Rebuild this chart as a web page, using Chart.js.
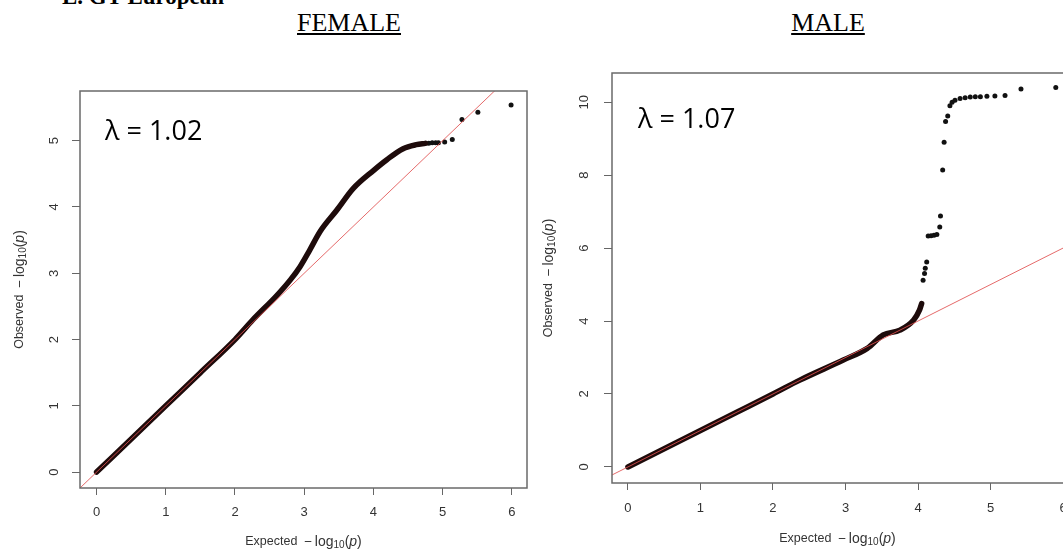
<!DOCTYPE html>
<html>
<head>
<meta charset="utf-8">
<script src="https://cdn.jsdelivr.net/npm/chart.js@4.4.1/dist/chart.umd.min.js"></script>
<style>
  html, body { margin: 0; padding: 0; background: #fff; overflow: hidden; }
  #wrap { position: relative; width: 1063px; height: 551px; overflow: hidden; background: #fff; }
  .hdr { position: absolute; font-family: "Liberation Serif", "Times New Roman", serif; color: #000; white-space: nowrap; }
  #figTitle { left: 62px; top: -15px; font-size: 23px; line-height: 23px; font-weight: bold; }
  .sex { width: 200px; text-align: center; top: 10px; font-size: 26px; line-height: 26px; text-decoration: underline; }
  #femaleTitle { left: 249px; }
  #maleTitle { left: 728px; }
  canvas { position: absolute; top: 0; }
  #femaleChart { left: 0; }
  #maleChart { left: 532px; }
</style>
</head>
<body>
<div id="wrap">
  <div class="hdr" id="figTitle">E. GT European</div>
  <div class="hdr sex" id="femaleTitle">FEMALE</div>
  <div class="hdr sex" id="maleTitle">MALE</div>
  <canvas id="femaleChart" width="540" height="551"></canvas>
  <canvas id="maleChart" width="560" height="551"></canvas>
</div>

<script>
// === Daten ===
const X_TICKS = [0, 1, 2, 3, 4, 5, 6];
const FEMALE_Y_TICKS = [0, 1, 2, 3, 4, 5];
const MALE_Y_TICKS = [0, 2, 4, 6, 8, 10];

const FEMALE_LAMBDA = "λ = 1.02";
const MALE_LAMBDA = "λ = 1.07";

// dichter Teil (als dicke Linie) + einzelne Punkte im Schwanz
const FEMALE_BULK_EXP = [0, 0.5, 1, 1.5, 2, 2.26, 2.6, 2.8, 2.94, 3.08, 3.23, 3.47, 3.71, 4.0, 4.19, 4.43, 4.62, 4.75];
const FEMALE_BULK_OBS = [0, 0.5, 1, 1.5, 2, 2.3, 2.66, 2.9, 3.1, 3.35, 3.63, 3.95, 4.28, 4.55, 4.71, 4.88, 4.94, 4.96];
const FEMALE_TAIL_EXP = [4.8, 4.85, 4.9, 4.94, 5.03, 5.14, 5.28, 5.51, 5.99];
const FEMALE_TAIL_OBS = [4.96, 4.97, 4.97, 4.97, 4.98, 5.02, 5.32, 5.43, 5.54];

const MALE_BULK_EXP = [0, 0.5, 1, 1.5, 2, 2.37, 2.97, 3.3, 3.52, 3.75, 3.94, 4.02, 4.05];
const MALE_BULK_OBS = [0, 0.5, 1, 1.5, 2, 2.38, 2.93, 3.25, 3.62, 3.75, 4.03, 4.3, 4.48];
const MALE_TAIL_EXP = [4.07, 4.09, 4.1, 4.12, 4.14, 4.18, 4.22, 4.26, 4.30, 4.31, 4.34, 4.36, 4.38, 4.41, 4.44, 4.47, 4.51,
  4.58, 4.65, 4.72, 4.79, 4.86, 4.95, 5.06, 5.20, 5.42, 5.90];
const MALE_TAIL_OBS = [5.12, 5.3, 5.45, 5.62, 6.33, 6.34, 6.35, 6.37, 6.58, 6.88, 8.14, 8.9, 9.47, 9.62, 9.9, 10.0, 10.05,
  10.1, 10.12, 10.14, 10.15, 10.15, 10.16, 10.17, 10.18, 10.36, 10.40];

// Diagonale y = x
const DIAG = [-1, 12];

// === Hilfen ===
const SANS = '"Liberation Sans", Arial, Helvetica, sans-serif';
const pts = (xs, ys) => xs.map((v, i) => ({ x: v, y: ys[i] }));

// "Expected  −log10(p)" im R-plotmath-Stil
function drawLogTitle(ctx, word, cx, cy, rotate) {
  const parts = [
    { t: word + "  ", f: "12.5px " + SANS, dy: 0 },
    { t: "\u2212\u2009", f: "13.5px " + SANS, dy: 0 },
    { t: "log", f: "14px " + SANS, dy: 0 },
    { t: "10", f: "10px " + SANS, dy: 3.5 },
    { t: "(", f: "14px " + SANS, dy: 0 },
    { t: "p", f: "italic 14px " + SANS, dy: 0 },
    { t: ")", f: "14px " + SANS, dy: 0 },
  ];
  let total = 0;
  parts.forEach((p) => { ctx.font = p.f; p.w = ctx.measureText(p.t).width; total += p.w; });
  ctx.save();
  ctx.translate(cx, cy);
  if (rotate) ctx.rotate(-Math.PI / 2);
  ctx.fillStyle = "#333";
  ctx.textAlign = "left";
  ctx.textBaseline = "middle";
  let x = -total / 2;
  parts.forEach((p) => { ctx.font = p.f; ctx.fillText(p.t, x, p.dy); x += p.w; });
  ctx.restore();
}

// Rahmen, Achsenbeschriftung, Lambda
const rStyle = {
  id: "rStyle",
  afterDraw(chart, args, o) {
    const { ctx, chartArea: a, scales } = chart;
    const sx = scales.x, sy = scales.y;
    ctx.save();
    ctx.strokeStyle = "#6a6a6a";
    ctx.lineWidth = 1.5;
    ctx.strokeRect(a.left, a.top, a.right - a.left, a.bottom - a.top);

    ctx.fillStyle = "#333";
    ctx.font = "13px " + SANS;
    ctx.textAlign = "center";
    ctx.textBaseline = "middle";
    o.xTicks.forEach((v) => ctx.fillText(String(v), sx.getPixelForValue(v), a.bottom + o.xLabOff));
    o.yTicks.forEach((v) => {
      ctx.save();
      ctx.translate(a.left - o.yLabOff, sy.getPixelForValue(v));
      ctx.rotate(-Math.PI / 2);
      ctx.fillText(String(v), 0, 0);
      ctx.restore();
    });

    drawLogTitle(ctx, "Expected", (a.left + a.right) / 2 + o.xTitleDx, a.bottom + o.xTitleOff, false);
    drawLogTitle(ctx, "Observed", o.yTitleX, (a.top + a.bottom) / 2, true);

    ctx.fillStyle = "#000";
    ctx.font = '27px "Open Sans", Lato, sans-serif';
    ctx.textAlign = "left";
    ctx.textBaseline = "alphabetic";
    ctx.fillText(o.lambda, a.left + o.lamX, a.top + o.lamY);
    ctx.restore();
  },
};

function makeQQ(canvasId, cfg) {
  const ctx = document.getElementById(canvasId).getContext("2d");
  return new Chart(ctx, {
    type: "scatter",
    data: {
      datasets: [
        {
          data: DIAG.map((v) => ({ x: v, y: v })),
          showLine: true,
          borderColor: "rgba(225, 80, 80, 0.85)",
          borderWidth: 1,
          pointRadius: 0,
          order: 0,
        },
        {
          data: pts(cfg.bulkX, cfg.bulkY),
          showLine: true,
          borderColor: "#1e0b0b",
          borderWidth: 5.5,
          borderCapStyle: "round",
          borderJoinStyle: "round",
          cubicInterpolationMode: "monotone",
          pointRadius: 0,
          order: 1,
        },
        {
          data: pts(cfg.tailX, cfg.tailY),
          showLine: false,
          pointRadius: 2.5,
          pointBorderWidth: 0,
          backgroundColor: "#111",
          order: 1,
        },
      ],
    },
    options: {
      responsive: false,
      animation: false,
      events: [],
      layout: { padding: cfg.padding },
      scales: {
        x: {
          type: "linear",
          min: cfg.xMin,
          max: cfg.xMax,
          afterBuildTicks: (s) => { s.ticks = X_TICKS.map((v) => ({ value: v })); },
          afterFit: (s) => { s.height = cfg.xAxisH; },
          ticks: { display: false },
          grid: { drawOnChartArea: false, drawTicks: true, tickLength: 7, color: "#666", lineWidth: 1 },
          border: { display: false },
        },
        y: {
          type: "linear",
          min: cfg.yMin,
          max: cfg.yMax,
          afterBuildTicks: (s) => { s.ticks = cfg.yTicks.map((v) => ({ value: v })); },
          afterFit: (s) => { s.width = 80; },
          ticks: { display: false },
          grid: { drawOnChartArea: false, drawTicks: true, tickLength: 8, color: "#666", lineWidth: 1 },
          border: { display: false },
        },
      },
      plugins: {
        legend: { display: false },
        tooltip: { enabled: false },
        rStyle: {
          xTicks: X_TICKS,
          yTicks: cfg.yTicks,
          xLabOff: cfg.xLabOff,
          yLabOff: cfg.yLabOff,
          xTitleOff: cfg.xTitleOff,
          xTitleDx: cfg.xTitleDx,
          yTitleX: cfg.yTitleX,
          lambda: cfg.lambda,
          lamX: cfg.lamX,
          lamY: cfg.lamY,
        },
      },
    },
    plugins: [rStyle],
  });
}

// === Init ===
makeQQ("femaleChart", {
  bulkX: FEMALE_BULK_EXP, bulkY: FEMALE_BULK_OBS,
  tailX: FEMALE_TAIL_EXP, tailY: FEMALE_TAIL_OBS,
  yTicks: FEMALE_Y_TICKS,
  xMin: -0.24, xMax: 6.22, yMin: -0.24, yMax: 5.75,
  padding: { left: 0, top: 91, right: 13, bottom: 0 },
  xAxisH: 63,
  xLabOff: 24, yLabOff: 26, xTitleOff: 54, xTitleDx: 0, yTitleX: 20,
  lambda: FEMALE_LAMBDA, lamX: 25, lamY: 49,
});

makeQQ("maleChart", {
  bulkX: MALE_BULK_EXP, bulkY: MALE_BULK_OBS,
  tailX: MALE_TAIL_EXP, tailY: MALE_TAIL_OBS,
  yTicks: MALE_Y_TICKS,
  xMin: -0.22, xMax: 6.22, yMin: -0.44, yMax: 10.8,
  padding: { left: 0, top: 73, right: 13, bottom: 0 },
  xAxisH: 68,
  xLabOff: 25, yLabOff: 28, xTitleOff: 56, xTitleDx: -8, yTitleX: 17,
  lambda: MALE_LAMBDA, lamX: 26, lamY: 55,
});
</script>
</body>
</html>
